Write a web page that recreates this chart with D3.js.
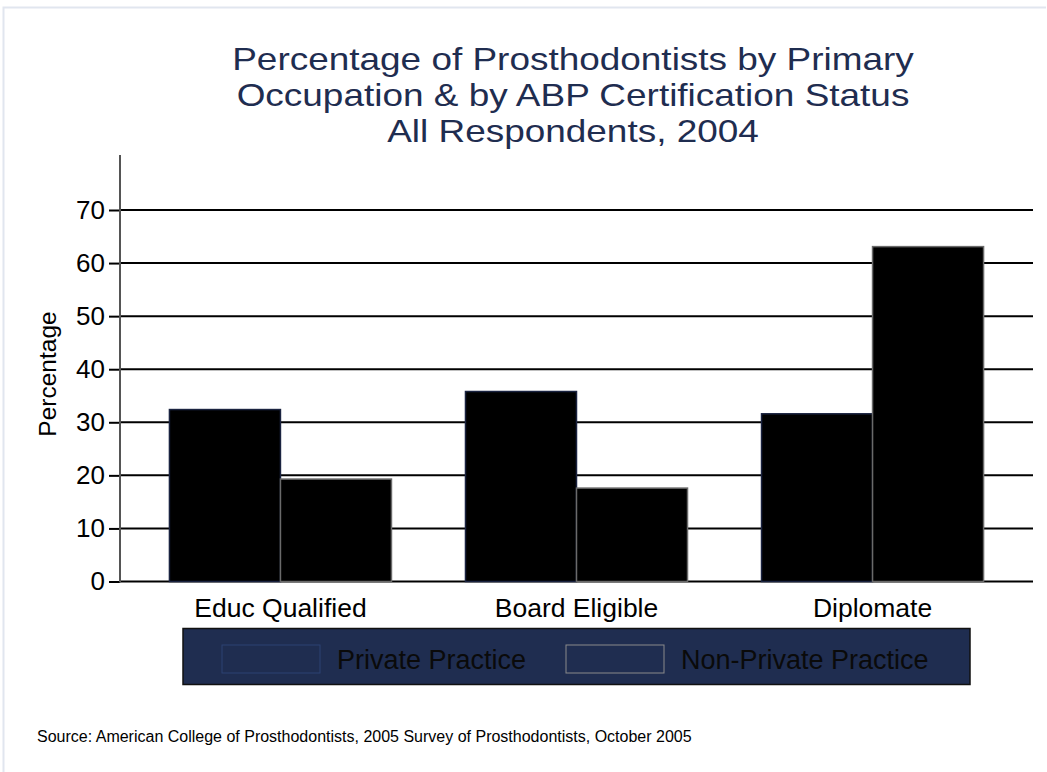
<!DOCTYPE html>
<html lang="en">
<head>
    <meta charset="UTF-8">
    <title>Prosthodontists by Primary Occupation</title>
    <script src="https://d3js.org/d3.v7.min.js"></script>
    <style>
        body { margin: 0; background: #fff; }
        svg text { font-family: "Liberation Sans", Arial, sans-serif; }
    </style>
</head>
<body>
    <div id="chart"></div>
    <script>
        // values
        const categories = ["Educ Qualified", "Board Eligible", "Diplomate"];
        const seriesNames = ["Private Practice", "Non-Private Practice"];
        const privatePractice = [32.4, 35.8, 31.6];
        const nonPrivatePractice = [19.3, 17.6, 63.1];
        const yTicks = [0, 10, 20, 30, 40, 50, 60, 70];
        const titleLines = [
            "Percentage of Prosthodontists by Primary",
            "Occupation & by ABP Certification Status",
            "All Respondents, 2004"
        ];
        const sourceNote = "Source: American College of Prosthodontists, 2005 Survey of Prosthodontists, October 2005";

        const width = 1047, height = 772;
        const navy = "#1f2d50";
        const font = "'Liberation Sans', Arial, sans-serif";

        const svg = d3.select("#chart").append("svg")
            .attr("width", width)
            .attr("height", height);

        // light outer frame
        svg.append("path")
            .attr("d", "M3.5,772 V7.5 H1046")
            .attr("fill", "none")
            .attr("stroke", "#e1e6ef")
            .attr("stroke-width", 2);

        // title (slightly stretched sideways like the original)
        svg.append("text")
            .attr("transform", "translate(573,0) scale(1.155,1)")
            .attr("text-anchor", "middle")
            .attr("fill", navy)
            .style("font-size", "32px")
            .selectAll("tspan")
            .data(titleLines)
            .enter()
            .append("tspan")
            .attr("x", 0)
            .attr("y", (d, i) => 70 + i * 36)
            .text(d => d);

        const plot = { left: 120, right: 1033, top: 155, bottom: 581.5 };

        const y = d3.scaleLinear()
            .domain([0, 70])
            .range([plot.bottom, 210]);

        const x0 = d3.scaleBand()
            .domain(categories)
            .range([plot.left, plot.right])
            .paddingInner(0.25)
            .paddingOuter(0.167);

        const x1 = d3.scaleBand()
            .domain(seriesNames)
            .range([0, x0.bandwidth()]);

        // gridlines
        svg.append("g")
            .selectAll("line")
            .data(yTicks)
            .enter()
            .append("line")
            .attr("x1", plot.left)
            .attr("x2", plot.right)
            .attr("y1", d => y(d))
            .attr("y2", d => y(d))
            .attr("stroke", "#000")
            .attr("stroke-width", 2);

        // y axis
        const yAxis = svg.append("g")
            .attr("transform", `translate(${plot.left},0)`)
            .call(d3.axisLeft(y).tickValues(yTicks).tickSize(11).tickPadding(4));
        yAxis.select(".domain").remove();
        yAxis.selectAll(".tick line").attr("stroke", "#000").attr("stroke-width", 2);
        yAxis.selectAll(".tick text")
            .attr("fill", "#000")
            .attr("font-size", null)
            .style("font-size", "26px")
            .style("font-family", font);

        svg.append("line")
            .attr("x1", plot.left)
            .attr("x2", plot.left)
            .attr("y1", plot.top)
            .attr("y2", plot.bottom + 1)
            .attr("stroke", "#555")
            .attr("stroke-width", 2);

        svg.append("text")
            .attr("transform", `translate(56, ${374}) rotate(-90)`)
            .attr("text-anchor", "middle")
            .style("font-size", "24.5px")
            .attr("fill", "#000")
            .text("Percentage");

        // bars
        const rows = categories.map((c, i) => ({
            category: c,
            values: [
                { key: seriesNames[0], value: privatePractice[i] },
                { key: seriesNames[1], value: nonPrivatePractice[i] }
            ]
        }));

        const strokeFor = { "Private Practice": "#1a2340", "Non-Private Practice": "#6a6a6a" };

        svg.append("g")
            .selectAll("g")
            .data(rows)
            .enter()
            .append("g")
            .attr("transform", d => `translate(${x0(d.category)},0)`)
            .selectAll("rect")
            .data(d => d.values)
            .enter()
            .append("rect")
            .attr("x", d => x1(d.key))
            .attr("y", d => y(d.value))
            .attr("width", x1.bandwidth())
            .attr("height", d => y(0) - y(d.value))
            .attr("fill", "#000")
            .attr("stroke", d => strokeFor[d.key])
            .attr("stroke-width", 1.5);

        // category labels
        svg.append("g")
            .selectAll("text")
            .data(categories)
            .enter()
            .append("text")
            .attr("x", d => x0(d) + x0.bandwidth() / 2)
            .attr("y", 617)
            .attr("text-anchor", "middle")
            .style("font-size", "26.5px")
            .attr("fill", "#000")
            .text(d => d);

        // legend
        const legend = svg.append("g");
        legend.append("rect")
            .attr("x", 183)
            .attr("y", 628.5)
            .attr("width", 787)
            .attr("height", 56)
            .attr("fill", navy)
            .attr("stroke", "#111")
            .attr("stroke-width", 1.5);

        const legendX = [222, 566];
        const legendStroke = ["#2d4272", "#8a8a8a"];
        const items = legend.selectAll(".legend-item")
            .data(seriesNames)
            .enter()
            .append("g")
            .attr("class", "legend-item")
            .attr("transform", (d, i) => `translate(${legendX[i]}, 645)`);

        items.append("rect")
            .attr("width", 98)
            .attr("height", 28)
            .attr("fill", navy)
            .attr("stroke", (d, i) => legendStroke[i])
            .attr("stroke-width", 1);

        items.append("text")
            .attr("x", 115)
            .attr("y", 24)
            .style("font-size", "27px")
            .attr("fill", "#0a0a0a")
            .text(d => d);

        // source
        svg.append("text")
            .attr("x", 37)
            .attr("y", 742)
            .style("font-size", "16px")
            .attr("fill", "#000")
            .text(sourceNote);
    </script>
</body>
</html>
